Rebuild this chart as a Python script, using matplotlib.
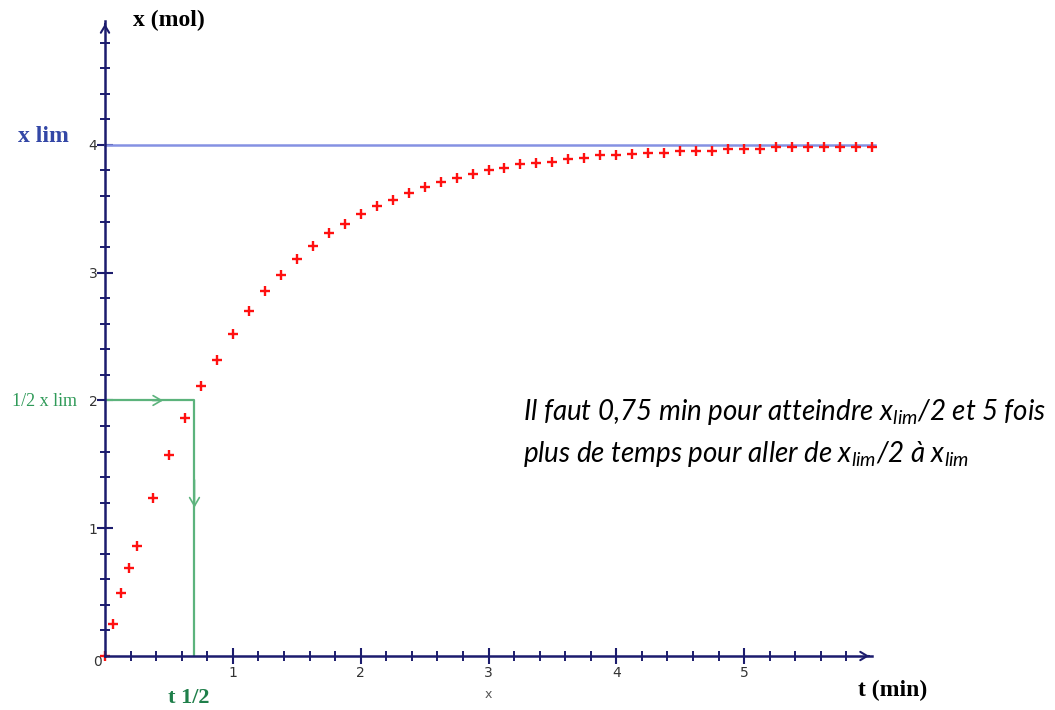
import numpy as np
import matplotlib.pyplot as plt
from matplotlib.ticker import FixedLocator

plt.rcParams['mathtext.fontset'] = 'custom'
plt.rcParams['mathtext.it'] = 'Lato:italic'
plt.rcParams['mathtext.rm'] = 'Lato:italic'

# time (min) and advancement x (mol)
t_min = [0, 0.0625, 0.125, 0.1875, 0.25, 0.375, 0.5, 0.625, 0.75, 0.875,
         1.0, 1.125, 1.25, 1.375, 1.5, 1.625, 1.75, 1.875, 2.0, 2.125,
         2.25, 2.375, 2.5, 2.625, 2.75, 2.875, 3.0, 3.125, 3.25, 3.375,
         3.5, 3.625, 3.75, 3.875, 4.0, 4.125, 4.25, 4.375, 4.5, 4.625,
         4.75, 4.875, 5.0, 5.125, 5.25, 5.375, 5.5, 5.625, 5.75, 5.875, 6.0]
x_mol = [0, 0.25, 0.49, 0.69, 0.86, 1.24, 1.57, 1.86, 2.11, 2.32,
         2.52, 2.70, 2.86, 2.98, 3.11, 3.21, 3.31, 3.38, 3.46, 3.52,
         3.57, 3.62, 3.67, 3.71, 3.74, 3.77, 3.80, 3.82, 3.85, 3.86,
         3.87, 3.89, 3.90, 3.92, 3.92, 3.93, 3.94, 3.94, 3.955, 3.955,
         3.955, 3.965, 3.965, 3.965, 3.98, 3.98, 3.98, 3.98, 3.98, 3.98, 3.98]

x_lim = 4.0
x_half = 2.0
t_half = 0.70

NAVY = '#1c1c6e'
W, H = 1055, 710

fig = plt.figure(figsize=(W / 100, H / 100), dpi=100)
ax = fig.add_axes([105 / W, 54 / H, 767 / W, 635 / H])
ax.set_xlim(0, 6)
ax.set_ylim(0, 4.97)

for side in ['top', 'right']:
    ax.spines[side].set_visible(False)
for side in ['left', 'bottom']:
    ax.spines[side].set_color(NAVY)
    ax.spines[side].set_linewidth(1.8)
    ax.spines[side].set_zorder(4)

ax.xaxis.set_major_locator(FixedLocator([1, 2, 3, 4, 5]))
ax.xaxis.set_minor_locator(FixedLocator([v for v in np.arange(0.2, 5.9, 0.2)
                                         if abs(v - round(v)) > 1e-6]))
ax.yaxis.set_major_locator(FixedLocator([1, 2, 3, 4]))
ax.yaxis.set_minor_locator(FixedLocator([v for v in np.arange(0.2, 4.9, 0.2)
                                         if abs(v - round(v)) > 1e-6]))
ax.tick_params(which='major', direction='inout', length=11, width=1.5,
               color=NAVY, labelsize=10, labelcolor='#333333')
ax.tick_params(which='minor', direction='inout', length=7, width=1.4, color=NAVY)
ax.tick_params(axis='x', which='major', pad=2)
ax.tick_params(axis='y', which='major', pad=0)
ax.text(-0.06, -0.05, '0', ha='center', va='center', fontsize=10,
        color='#333333', clip_on=False)

# axis arrow heads
ax.annotate('', xy=(6.0, 0), xytext=(5.95, 0), annotation_clip=False,
            arrowprops=dict(arrowstyle='->,head_length=0.5,head_width=0.3',
                            color=NAVY, lw=1.5))
ax.annotate('', xy=(0, 4.97), xytext=(0, 4.92), annotation_clip=False,
            arrowprops=dict(arrowstyle='->,head_length=0.5,head_width=0.3',
                            color=NAVY, lw=1.5))

# asymptote
ax.plot([0, 6.02], [x_lim, x_lim], color='#8591e3', lw=1.8, clip_on=False, zorder=2)

# half-reaction construction
GREEN = '#5cb37c'
ax.plot([0, t_half, t_half], [x_half, x_half, 0], color=GREEN, lw=1.6, zorder=2)
ax.annotate('', xy=(t_half * 0.68, x_half), xytext=(t_half * 0.5, x_half),
            arrowprops=dict(arrowstyle='->,head_length=0.6,head_width=0.35',
                            color=GREEN, lw=1.2))
ax.annotate('', xy=(t_half, x_half * 0.57), xytext=(t_half, x_half * 0.7),
            arrowprops=dict(arrowstyle='->,head_length=0.6,head_width=0.35',
                            color=GREEN, lw=1.2))

# measurements
ax.plot(t_min, x_mol, linestyle='none', marker='+', markersize=7,
        markeredgewidth=1.7, color='#ff1010', zorder=3, clip_on=False)

serif = 'Liberation Serif'
fig.text(133 / W, 1 - 20 / H, 'x (mol)', family=serif, weight='bold',
         fontsize=17, va='center', ha='left', color='black')
fig.text(18 / W, 1 - 137 / H, 'x lim', family=serif, weight='bold',
         fontsize=17, va='center', ha='left', color='#3347a6')
fig.text(12 / W, 1 - 401 / H, '1/2 x lim', family=serif,
         fontsize=13, va='center', ha='left', color='#2f9a58')
fig.text(168 / W, 1 - 698 / H, 't 1/2', family=serif, weight='bold',
         fontsize=16, va='center', ha='left', color='#1f7f4a')
fig.text(858 / W, 1 - 690 / H, 't (min)', family=serif, weight='bold',
         fontsize=17, va='center', ha='left', color='black')
fig.text(488 / W, 1 - 695 / H, 'x', fontsize=9, va='center', ha='center',
         color='#555555')

note_kw = dict(family='Lato', style='italic', fontsize=20, va='center',
               ha='left', color='black')
fig.text(523 / W, 1 - 412 / H,
         r'Il faut 0,75 min pour atteindre x$_{lim}$/2 et 5 fois', **note_kw)
fig.text(523 / W, 1 - 454 / H,
         r'plus de temps pour aller de x$_{lim}$/2 à x$_{lim}$', **note_kw)

fig.savefig('out.png', dpi=100)
